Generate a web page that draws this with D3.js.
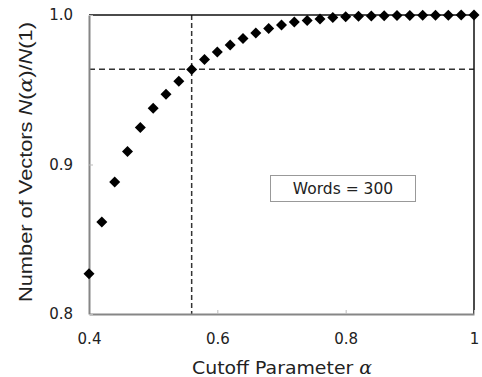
<!DOCTYPE html>
<html>
<head>
<meta charset="utf-8">
<script src="https://cdn.jsdelivr.net/npm/d3@7"></script>
<style>
  body { margin: 0; background: #fff; }
  text { fill: #222; }
</style>
</head>
<body>
<script>
// cutoff parameter alpha
const alphas = [0.40, 0.42, 0.44, 0.46, 0.48, 0.50, 0.52, 0.54, 0.56, 0.58,
                0.60, 0.62, 0.64, 0.66, 0.68, 0.70, 0.72, 0.74, 0.76, 0.78,
                0.80, 0.82, 0.84, 0.86, 0.88, 0.90, 0.92, 0.94, 0.96, 0.98, 1.00];
// N(alpha)/N(1)
const ratios = [0.827, 0.8616, 0.8883, 0.9087, 0.9248, 0.9377, 0.9470, 0.9557, 0.9635, 0.9702,
                0.9753, 0.9799, 0.9843, 0.9880, 0.9909, 0.9933, 0.9953, 0.9963, 0.9974, 0.9983,
                0.9989, 0.9991, 0.9993, 0.9995, 0.9996, 0.9997, 0.9998, 0.9999, 0.9999, 1.0, 1.0];
const xTicks = [0.4, 0.6, 0.8, 1];
const yTicks = [0.8, 0.9, 1.0];
const cutAlpha = 0.56;
const cutRatio = 0.9637;
const legendText = "Words = 300";

const W = 482, H = 377;
const m = {left: 89, right: 474, top: 15, bottom: 314};
const font = "DejaVu Sans, Verdana, sans-serif";

let svg = d3.select("body").append("svg").attr("width", W).attr("height", H);

let x = d3.scaleLinear().domain([0.4, 1]).range([m.left, m.right]);
let y = d3.scaleLinear().domain([0.8, 1.0]).range([m.bottom, m.top]);

//dashed guide lines
svg.append("line")
    .attr("x1", x(cutAlpha)).attr("x2", x(cutAlpha))
    .attr("y1", y(1.0)).attr("y2", y(0.8))
    .attr("stroke", "#333").attr("stroke-width", 1.5).attr("stroke-dasharray", "5,3");
svg.append("line")
    .attr("x1", x(0.4)).attr("x2", x(1))
    .attr("y1", y(cutRatio)).attr("y2", y(cutRatio))
    .attr("stroke", "#333").attr("stroke-width", 1.5).attr("stroke-dasharray", "6,4");

//top + right border
svg.append("path")
    .attr("d", `M${x(0.4)},${y(1.0)}H${x(1)}V${y(0.8)}`)
    .attr("fill", "none").attr("stroke", "#111").attr("stroke-width", 1.5);

//bottom axis
let xAxis = d3.axisBottom(x).tickValues(xTicks)
    .tickFormat(d => d === 1 ? "1" : d3.format(".1f")(d))
    .tickSizeInner(-4).tickSizeOuter(0).tickPadding(19);
let gx = svg.append("g").attr("transform", `translate(0,${m.bottom})`).call(xAxis);

//left axis
let yAxis = d3.axisLeft(y).tickValues(yTicks).tickFormat(d3.format(".1f"))
    .tickSizeInner(-4).tickSizeOuter(0).tickPadding(16);
let gy = svg.append("g").attr("transform", `translate(${m.left},0)`).call(yAxis);

[gx, gy].forEach(g => {
    g.select(".domain").attr("stroke", "#868686").attr("stroke-width", 2);
    g.selectAll(".tick line").attr("stroke", "#bbb");
    g.selectAll(".tick text")
        .attr("font-family", font)
        .attr("font-size", 15).attr("fill", "#222");
});

//markers
svg.selectAll("path.pt")
    .data(alphas).enter().append("path")
    .attr("class", "pt")
    .attr("d", (d, i) => {
        let cx = x(d), cy = y(ratios[i]), r = 5.5;
        return `M${cx},${cy - r}L${cx + r},${cy}L${cx},${cy + r}L${cx - r},${cy}Z`;
    })
    .attr("fill", "#000");

//legend box
let lg = svg.append("g");
lg.append("rect")
    .attr("x", 270.5).attr("y", 175.5).attr("width", 145).attr("height", 26)
    .attr("fill", "#fff").attr("stroke", "#999").attr("stroke-width", 1);
lg.append("text")
    .attr("x", 343).attr("y", 194)
    .attr("text-anchor", "middle")
    .attr("font-family", font)
    .attr("font-size", 15.5)
    .text(legendText);

//x label
let xl = svg.append("text")
    .attr("x", 282).attr("y", 374)
    .attr("text-anchor", "middle")
    .attr("font-family", font)
    .attr("font-size", 18)
    .attr("textLength", 180).attr("lengthAdjust", "spacingAndGlyphs");
xl.append("tspan").text("Cutoff Parameter ");
xl.append("tspan").attr("font-style", "italic").attr("font-family", "DejaVu Serif, serif").text("α");

//y label
let yl = svg.append("text")
    .attr("transform", `translate(32,162) rotate(-90)`)
    .attr("text-anchor", "middle")
    .attr("font-family", "Liberation Sans, Arial, sans-serif")
    .attr("font-size", 18)
    .attr("textLength", 280).attr("lengthAdjust", "spacingAndGlyphs");
yl.append("tspan").text("Number of Vectors ");
yl.append("tspan").attr("font-style", "italic").text("N");
yl.append("tspan").text("(");
yl.append("tspan").attr("font-style", "italic").attr("font-family", "DejaVu Serif, serif").text("α");
yl.append("tspan").text(")/");
yl.append("tspan").attr("font-style", "italic").text("N");
yl.append("tspan").text("(1)");
</script>
</body>
</html>
